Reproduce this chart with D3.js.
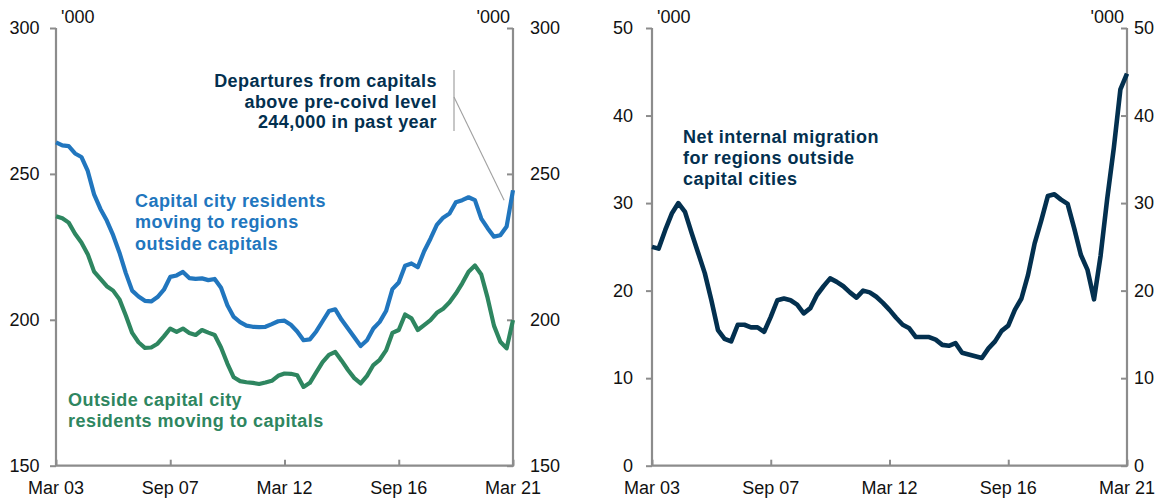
<!DOCTYPE html>
<html>
<head>
<meta charset="utf-8">
<script src="https://cdn.jsdelivr.net/npm/d3@7"></script>
<style>
    body { margin: 0; background: #fff; }
    text { font-family: "Liberation Sans", Arial, sans-serif; }
</style>
</head>
<body>
<div class="fig"></div>
<script>
/*-------------------------------------------------------*/
/*------------------------ Data -------------------------*/
/*-------------------------------------------------------*/
// quarterly, Mar 03 .. Mar 21 (73 quarters), '000
const tickIndex = [0, 18, 36, 54, 72];
const tickLabels = ["Mar 03", "Sep 07", "Mar 12", "Sep 16", "Mar 21"];

const capitalToRegions = [
    260.8, 259.8, 259.5, 257, 255.8, 251, 243, 238, 234, 229,
    223, 216, 210, 208, 206.5, 206.3, 207.8, 210.3, 214.7, 215.2,
    216.4, 214.3, 214, 214.2, 213.6, 214, 211, 205, 201, 199.2,
    198, 197.6, 197.5, 197.6, 198.5, 199.5, 199.7, 198.3, 196, 193,
    193.3, 196, 199.5, 203, 203.6, 200, 197, 194, 191, 193,
    197, 199.3, 203, 210.5, 212.8, 218.5, 219.3, 218, 223.5, 227.8,
    232.5, 235, 236.4, 240.3, 241, 242, 241, 234.7, 231.4, 228.5,
    229, 232, 244.4
];

const regionsToCapital = [
    235.5, 234.8, 233.3, 229.5, 226.5, 222.5, 216.5, 214, 211.5, 210,
    207, 201.5, 195.5, 192.3, 190.4, 190.5, 191.8, 194.3, 197, 195.9,
    197, 195.5, 194.8, 196.5, 195.6, 194.8, 190.5, 185, 180.3, 179,
    178.6, 178.4, 178, 178.5, 179.1, 180.8, 181.6, 181.5, 181, 177,
    178.4, 182, 185.5, 188, 189, 186, 182.8, 180, 178.2, 180.8,
    184.5, 186.3, 189.5, 195.5, 196.5, 201.8, 200.5, 196.5, 198.2, 199.9,
    202.4, 203.8, 206, 209, 212.5, 216.5, 218.6, 215.5, 207.5, 198,
    192.5, 190.2, 199.9
];

const netRegional = [
    25, 24.8, 26.9, 28.8, 30, 29, 26.6, 24.3, 22, 18.9,
    15.5, 14.5, 14.2, 16.1, 16.1, 15.8, 15.8, 15.3, 17, 18.9,
    19.1, 18.9, 18.4, 17.4, 18, 19.5, 20.5, 21.4, 21, 20.5,
    19.8, 19.2, 20, 19.8, 19.3, 18.6, 17.8, 16.9, 16.1, 15.7,
    14.7, 14.7, 14.7, 14.4, 13.8, 13.7, 14, 12.9, 12.7, 12.5,
    12.3, 13.4, 14.2, 15.4, 16, 17.8, 19.1, 21.8, 25.4, 28,
    30.8, 31, 30.4, 29.9, 27.1, 24.1, 22.4, 19, 24, 30.5,
    36.3, 43, 44.8
];

const leftTicks = [150, 200, 250, 300];
const rightTicks = [0, 10, 20, 30, 40, 50];

/*-------------------------------------------------------*/
/*----------------------- Styles ------------------------*/
/*-------------------------------------------------------*/
const blue = "#2176be";
const green = "#2e8660";
const navy = "#03304f";
const axisGrey = "#8c8c8c";
const plotTop = 28, plotBottom = 465.7;

const svg = d3.select(".fig").append("svg")
    .attr("width", 1169)
    .attr("height", 501);

/*-------------------------------------------------------*/
/*----------------------- Panels ------------------------*/
/*-------------------------------------------------------*/
function drawPanel(opts) {
    const x = d3.scaleLinear().domain([0, 72]).range([opts.x0, opts.x1]);
    const y = d3.scaleLinear().domain(opts.domain).range([plotBottom, plotTop]);
    const g = svg.append("g");

    // left axis, ticks outward
    const yl = g.append("g")
        .attr("transform", `translate(${opts.x0},0)`)
        .call(d3.axisLeft(y).tickValues(opts.ticks).tickSize(6).tickSizeOuter(0));
    yl.select(".domain").remove();
    yl.selectAll("text").remove();
    yl.selectAll("line").attr("stroke", axisGrey).attr("stroke-width", 2);

    // right axis, ticks pointing inward
    const yr = g.append("g")
        .attr("transform", `translate(${opts.x1},0)`)
        .call(d3.axisLeft(y).tickValues(opts.ticks).tickSize(6).tickSizeOuter(0));
    yr.select(".domain").remove();
    yr.selectAll("text").remove();
    yr.selectAll("line").attr("stroke", axisGrey).attr("stroke-width", 2);

    // bottom axis, ticks inward
    const xa = g.append("g")
        .attr("transform", `translate(0,${plotBottom})`)
        .call(d3.axisTop(x).tickValues(tickIndex).tickSize(6).tickSizeOuter(0));
    xa.select(".domain").remove();
    xa.selectAll("text").remove();
    xa.selectAll("line").attr("stroke", axisGrey).attr("stroke-width", 2);

    // axis frame lines
    g.append("path")
        .attr("d", `M${opts.x0},${plotTop}V${plotBottom}H${opts.x1}V${plotTop}`)
        .attr("fill", "none")
        .attr("stroke", axisGrey)
        .attr("stroke-width", 2.2);

    // tick labels
    g.selectAll(".ylab-l")
        .data(opts.ticks)
        .join("text")
        .attr("x", opts.x0 - opts.gapL)
        .attr("y", d => y(d) + 6.3)
        .attr("text-anchor", "end")
        .attr("font-size", 18)
        .attr("fill", "#111")
        .text(d => d);

    g.selectAll(".ylab-r")
        .data(opts.ticks)
        .join("text")
        .attr("x", opts.x1 + opts.gapR)
        .attr("y", d => y(d) + 6.3)
        .attr("font-size", 18)
        .attr("fill", "#111")
        .text(d => d);

    g.selectAll(".xlab")
        .data(tickIndex)
        .join("text")
        .attr("x", d => x(d))
        .attr("y", 493.5)
        .attr("text-anchor", "middle")
        .attr("font-size", 18)
        .attr("fill", "#111")
        .text((d, i) => tickLabels[i]);

    g.append("text")
        .attr("x", opts.x0 + 5)
        .attr("y", 23)
        .attr("font-size", 18)
        .attr("fill", "#111")
        .text("'000");

    g.append("text")
        .attr("x", opts.x1 - 3)
        .attr("y", 23)
        .attr("text-anchor", "end")
        .attr("font-size", 18)
        .attr("fill", "#111")
        .text("'000");

    const line = d3.line()
        .x((d, i) => x(i))
        .y(d => y(d))
        .curve(d3.curveLinear);

    opts.series.forEach(s => {
        g.append("path")
            .datum(s.values)
            .attr("d", line)
            .attr("fill", "none")
            .attr("stroke", s.color)
            .attr("stroke-width", s.width)
            .attr("stroke-linejoin", "round")
            .attr("stroke-linecap", "butt");
    });

    return { g, x, y };
}

const left = drawPanel({
    x0: 56, x1: 513, domain: [150, 300], ticks: leftTicks, gapL: 16.5, gapR: 17,
    series: [
        { values: capitalToRegions, color: blue, width: 4.2 },
        { values: regionsToCapital, color: green, width: 4.2 }
    ]
});

const right = drawPanel({
    x0: 652, x1: 1127, domain: [0, 50], ticks: rightTicks, gapL: 19, gapR: 7,
    series: [
        { values: netRegional, color: navy, width: 4.6 }
    ]
});

/*-------------------------------------------------------*/
/*--------------------- Annotations ---------------------*/
/*-------------------------------------------------------*/
function label(g, lines, x, y0, lh, color, anchor) {
    const t = g.append("text")
        .attr("font-size", 18)
        .attr("font-weight", "bold")
        .attr("letter-spacing", "0.45px")
        .attr("fill", color)
        .attr("text-anchor", anchor || "start");
    lines.forEach((s, i) => {
        t.append("tspan").attr("x", x).attr("y", y0 + i * lh).text(s);
    });
}

label(left.g, ["Departures from capitals", "above pre-coivd level", "244,000 in past year"],
    437, 87.3, 20.4, navy, "end");
label(left.g, ["Capital city residents", "moving to regions", "outside capitals"],
    135, 207, 21.3, blue);
label(left.g, ["Outside capital city", "residents moving to capitals"],
    68, 406, 21, green);
label(right.g, ["Net internal migration", "for regions outside", "capital cities"],
    683, 143.3, 21, navy);

// leader line to latest departures value
left.g.append("line")
    .attr("x1", 454).attr("x2", 454).attr("y1", 70).attr("y2", 131)
    .attr("stroke", "#b5b5b5").attr("stroke-width", 1.5);
left.g.append("line")
    .attr("x1", 454).attr("y1", 97)
    .attr("x2", left.x(70.6)).attr("y2", left.y(241))
    .attr("stroke", "#a0a0a0").attr("stroke-width", 1.1);
</script>
</body>
</html>
